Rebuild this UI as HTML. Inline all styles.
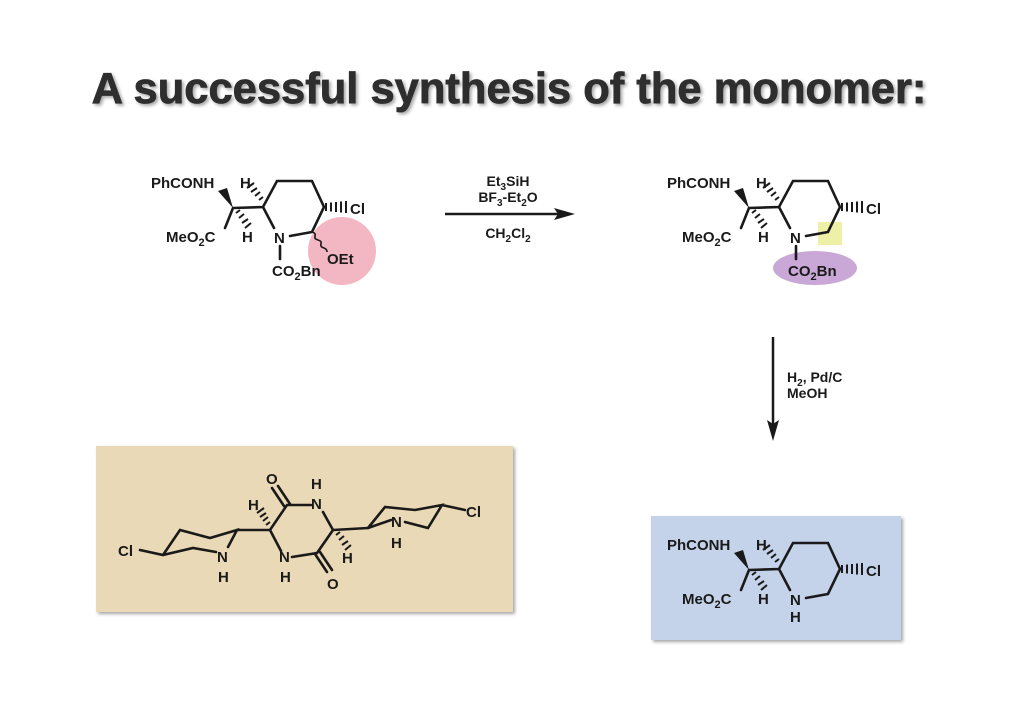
<!DOCTYPE html>
<html><head><meta charset="utf-8"><style>
html,body{margin:0;padding:0;background:#fff;}
svg{display:block;}
text{font-family:"Liberation Sans",Arial,sans-serif;font-weight:bold;fill:#1a1a1a;}
</style></head><body>
<svg width="1024" height="726" viewBox="0 0 1024 726" xmlns="http://www.w3.org/2000/svg">
<defs>
<filter id="sh" x="-5%" y="-10%" width="110%" height="130%"><feDropShadow dx="2" dy="2" stdDeviation="1.5" flood-color="#000" flood-opacity="0.35"/></filter>
</defs>

<text x="509" y="103" text-anchor="middle" font-size="43.5" style="fill:#2e2e2e;stroke:#2e2e2e;stroke-width:0.8" filter="url(#sh)">A successful synthesis of the monomer:</text>

<!-- boxes -->
<g filter="url(#sh)">
<rect x="96" y="446" width="417" height="166" fill="#ead9b6"/>
<rect x="651" y="516" width="250" height="124" fill="#c5d3ea"/>
</g>

<!-- highlights -->
<circle cx="342" cy="251" r="34" fill="#f3b7c4"/>
<ellipse cx="815" cy="268" rx="42" ry="17" fill="#c9a7d6"/>
<rect x="818" y="222" width="24" height="23" fill="#eef0a8"/>

<!-- structure 1 -->
<g stroke="#1a1a1a" stroke-width="2.6" fill="none" stroke-linecap="round">
<path d="M233 208 L263 207 L277 181 L312 181 L324 207 L312 232 L290 236 M263 207 L274 228 M233 208 L225 228 M280 246 L280 259"/>
</g>
<g stroke="#1a1a1a" stroke-width="2">
<path d="M326 203v8M331 202.5v9M336 202v10M341 201.5v11M346 201v12"/>
<path d="M259 200l4-3M255 196l5-4M251 192l6-4M247 188l7-5"/>
<path d="M236 213l4-3M239 218l5-4M242 223l6-4M245 228l6-5"/>
<path d="M312 232 q4 1 3 4 q-1 3 3 4 q4 1 3 4 q-1 3 3 4 q3 1 3 4" fill="none" stroke-width="1.6"/>
</g>
<polygon points="233,208 218,191 227,188" fill="#1a1a1a"/>
<text font-size="15" x="151" y="188">PhCONH</text>
<text font-size="15" x="240" y="188">H</text>
<text font-size="15" x="166" y="242">MeO<tspan font-size="11" dy="4">2</tspan><tspan dy="-4">C</tspan></text>
<text font-size="15" x="242" y="242">H</text>
<text font-size="15" x="274" y="243">N</text>
<text font-size="15" x="272" y="276">CO<tspan font-size="11" dy="4">2</tspan><tspan dy="-4">Bn</tspan></text>
<text font-size="15" x="327" y="264">OEt</text>
<text font-size="15" x="350" y="214">Cl</text>

<!-- arrow 1 -->
<line x1="445" y1="214" x2="560" y2="214" stroke="#1a1a1a" stroke-width="2.5"/>
<polygon points="575,214 554,208 558,214 554,220" fill="#1a1a1a"/>
<text font-size="14" x="508" y="186" text-anchor="middle">Et<tspan font-size="10" dy="4">3</tspan><tspan dy="-4">SiH</tspan></text>
<text font-size="14" x="508" y="202" text-anchor="middle">BF<tspan font-size="10" dy="4">3</tspan><tspan dy="-4">-Et</tspan><tspan font-size="10" dy="4">2</tspan><tspan dy="-4">O</tspan></text>
<text font-size="14" x="508" y="238" text-anchor="middle">CH<tspan font-size="10" dy="4">2</tspan><tspan dy="-4">Cl</tspan><tspan font-size="10" dy="4">2</tspan></text>

<!-- structure 2 -->
<g transform="translate(516,0)">
<g stroke="#1a1a1a" stroke-width="2.6" fill="none" stroke-linecap="round">
<path d="M233 208 L263 207 L277 181 L312 181 L324 207 L312 232 L290 236 M263 207 L274 228 M233 208 L225 228 M280 246 L280 259"/>
</g>
<g stroke="#1a1a1a" stroke-width="2">
<path d="M326 203v8M331 202.5v9M336 202v10M341 201.5v11M346 201v12"/>
<path d="M259 200l4-3M255 196l5-4M251 192l6-4M247 188l7-5"/>
<path d="M236 213l4-3M239 218l5-4M242 223l6-4M245 228l6-5"/>
</g>
<polygon points="233,208 218,191 227,188" fill="#1a1a1a"/>
<text font-size="15" x="151" y="188">PhCONH</text>
<text font-size="15" x="240" y="188">H</text>
<text font-size="15" x="166" y="242">MeO<tspan font-size="11" dy="4">2</tspan><tspan dy="-4">C</tspan></text>
<text font-size="15" x="242" y="242">H</text>
<text font-size="15" x="274" y="243">N</text>
<text font-size="15" x="272" y="276">CO<tspan font-size="11" dy="4">2</tspan><tspan dy="-4">Bn</tspan></text>
<text font-size="15" x="350" y="214">Cl</text>
</g>

<!-- arrow 2 -->
<line x1="773" y1="337" x2="773" y2="425" stroke="#1a1a1a" stroke-width="2.5"/>
<polygon points="773,441 767,420 773,424 779,420" fill="#1a1a1a"/>
<text font-size="14" x="787" y="382">H<tspan font-size="10" dy="4">2</tspan><tspan dy="-4">, Pd/C</tspan></text>
<text font-size="14" x="787" y="398">MeOH</text>

<!-- structure 3 -->
<g transform="translate(516,362)">
<g stroke="#1a1a1a" stroke-width="2.6" fill="none" stroke-linecap="round">
<path d="M233 208 L263 207 L277 181 L312 181 L324 207 L312 232 L290 236 M263 207 L274 228 M233 208 L225 228"/>
</g>
<g stroke="#1a1a1a" stroke-width="2">
<path d="M326 203v8M331 202.5v9M336 202v10M341 201.5v11M346 201v12"/>
<path d="M259 200l4-3M255 196l5-4M251 192l6-4M247 188l7-5"/>
<path d="M236 213l4-3M239 218l5-4M242 223l6-4M245 228l6-5"/>
</g>
<polygon points="233,208 218,191 227,188" fill="#1a1a1a"/>
<text font-size="15" x="151" y="188">PhCONH</text>
<text font-size="15" x="240" y="188">H</text>
<text font-size="15" x="166" y="242">MeO<tspan font-size="11" dy="4">2</tspan><tspan dy="-4">C</tspan></text>
<text font-size="15" x="242" y="242">H</text>
<text font-size="15" x="274" y="243">N</text>
<text font-size="15" x="274" y="260">H</text>
<text font-size="15" x="350" y="214">Cl</text>
</g>

<!-- dimer -->
<g stroke="#1a1a1a" stroke-width="2.6" fill="none" stroke-linecap="round">
<path d="M140 550 L163 555 L180 530 L210 538 L237 530 L228 547 M163 555 L193 548 L216 552"/>
<path d="M237 530 L270 530 L287 505 L311 505 M270 530 L281 551 M292 557 L317 553 L333 530 L323 512 M333 530 L368 528"/>
<path d="M284 506 L272 488 M290 504 L278 486"/>
<path d="M315 554 L327 572 M320 552 L332 570"/>
<path d="M368 528 L385 507 L415 510 L442 505 L428 528 M368 528 L391 520 M405 522 L428 528 M442 505 L465 510"/>
</g>
<g stroke="#1a1a1a" stroke-width="2">
<path d="M266 525l4-3M263 521l5-4M260 517l6-4M257 513l7-5"/>
<path d="M336 535l4-3M339 540l5-4M342 545l6-4M345 550l6-5"/>
</g>
<text font-size="15" x="118" y="556">Cl</text>
<text font-size="15" x="217" y="562">N</text>
<text font-size="15" x="218" y="582">H</text>
<text font-size="15" x="248" y="510">H</text>
<text font-size="15" x="266" y="484">O</text>
<text font-size="15" x="311" y="509">N</text>
<text font-size="15" x="311" y="489">H</text>
<text font-size="15" x="279" y="562">N</text>
<text font-size="15" x="280" y="582">H</text>
<text font-size="15" x="327" y="589">O</text>
<text font-size="15" x="342" y="563">H</text>
<text font-size="15" x="391" y="527">N</text>
<text font-size="15" x="391" y="548">H</text>
<text font-size="15" x="466" y="517">Cl</text>
</svg>
</body></html>
